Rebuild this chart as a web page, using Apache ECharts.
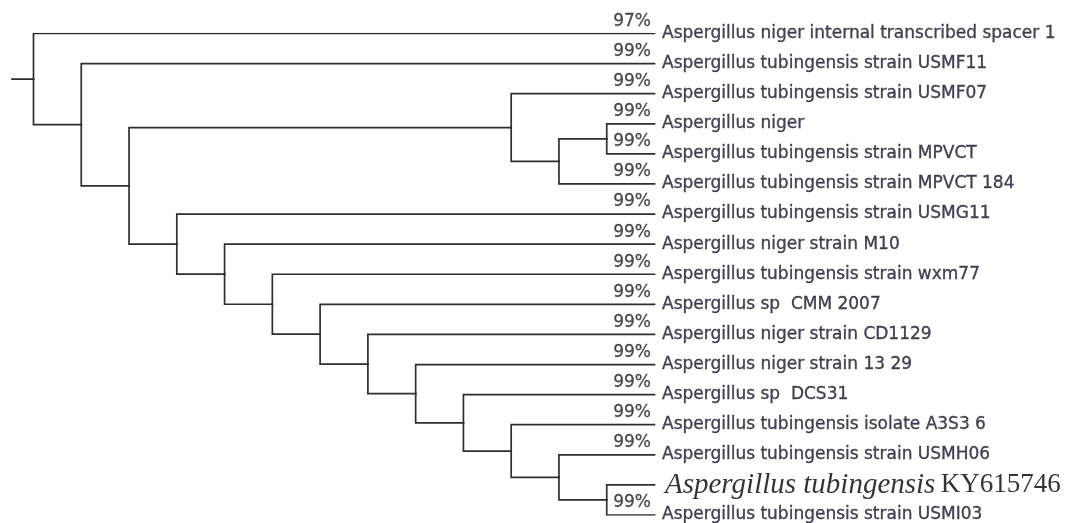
<!DOCTYPE html>
<html>
<head>
<meta charset="utf-8">
<script src="https://cdn.jsdelivr.net/npm/echarts@6/dist/echarts.min.js"></script>
<style>
  html, body { margin: 0; padding: 0; background: #ffffff; }
  #chart { width: 1072px; height: 523px; }
</style>
</head>
<body>
<div id="chart"></div>
<script>
// Terminal taxa, listed top to bottom
const leafNames = [
  'Aspergillus niger internal transcribed spacer 1',
  'Aspergillus tubingensis strain USMF11',
  'Aspergillus tubingensis strain USMF07',
  'Aspergillus niger',
  'Aspergillus tubingensis strain MPVCT',
  'Aspergillus tubingensis strain MPVCT 184',
  'Aspergillus tubingensis strain USMG11',
  'Aspergillus niger strain M10',
  'Aspergillus tubingensis strain wxm77',
  'Aspergillus sp  CMM 2007',
  'Aspergillus niger strain CD1129',
  'Aspergillus niger strain 13 29',
  'Aspergillus sp  DCS31',
  'Aspergillus tubingensis isolate A3S3 6',
  'Aspergillus tubingensis strain USMH06',
  'Aspergillus tubingensis KY615746',
  'Aspergillus tubingensis strain USMI03'
];

// Support value printed above each terminal branch (null = none)
const support = [
  '97%', '99%', '99%', '99%', '99%', '99%', '99%', '99%', '99%',
  '99%', '99%', '99%', '99%', '99%', '99%', null, '99%'
];

// Query sequence, set in the serif face
const queryLeaf = 15;
const querySpecies = 'Aspergillus tubingensis';
const queryAccession = 'KY615746';

// Tree topology: nested clades, numbers index into leafNames
const topology = [0, [1, [[2, [[3, 4], 5]], [6, [7, [8, [9, [10, [11, [12, [13, [14, [15, 16]]]]]]]]]]]]];

// ---- layout: cladogram, leaves aligned on the right ----
function height(n) {
  return typeof n === 'number' ? 0 : 1 + Math.max(...n.map(height));
}
const maxH = height(topology);
function nodeX(n) { return maxH - height(n); }
function nodeY(n) {
  if (typeof n === 'number') return n;
  return (nodeY(n[0]) + nodeY(n[n.length - 1])) / 2;
}

const branches = [];
function walk(n) {
  if (typeof n === 'number') return;
  const x = nodeX(n), y = nodeY(n);
  n.forEach(c => {
    branches.push({ coords: [[x, y], [x, nodeY(c)], [nodeX(c), nodeY(c)]] });
    walk(c);
  });
}
walk(topology);
const rootStub = 0.45;
const rootY = nodeY(topology);
branches.push({ coords: [[-rootStub, rootY], [0, rootY]] });

const tipPoints = leafNames.map((name, i) => [maxH, i, name]);
const supportPoints = support
  .map((s, i) => (s ? [maxH, i, s] : null))
  .filter(Boolean);

const sans = 'DejaVu Sans';
const ink = '#15152a';
const chart = echarts.init(document.getElementById('chart'), null, { renderer: 'canvas' });
chart.setOption({
  backgroundColor: '#ffffff',
  animation: false,
  grid: { left: 12, right: 417.5, top: 33.5, bottom: 8 },
  xAxis: { type: 'value', min: -rootStub, max: maxH, show: false },
  yAxis: { type: 'value', min: 0, max: leafNames.length - 1, inverse: true, show: false },
  series: [
    {
      type: 'lines',
      coordinateSystem: 'cartesian2d',
      polyline: true,
      silent: true,
      lineStyle: { color: '#2e2e2e', width: 1.7, opacity: 1, cap: 'square', join: 'miter' },
      data: branches,
      z: 1
    },
    {
      type: 'scatter',
      symbolSize: 1,
      itemStyle: { color: 'rgba(0,0,0,0)' },
      silent: true,
      data: tipPoints,
      label: {
        show: true,
        position: 'right',
        distance: 7,
        fontFamily: sans,
        fontSize: 17,
        color: ink,
        textBorderColor: ink,
        textBorderWidth: 0.35,
        formatter: p => p.dataIndex === queryLeaf
          ? '{it|' + querySpecies + '} {rm|' + queryAccession + '}'
          : p.data[2],
        rich: {
          it: {
            fontFamily: 'Liberation Serif', fontStyle: 'italic', fontSize: 29,
            color: '#000000', textBorderWidth: 0, padding: [0, 0, 0, 3]
          },
          rm: {
            fontFamily: 'Liberation Serif', fontSize: 27,
            color: '#000000', textBorderWidth: 0
          }
        }
      },
      z: 2
    },
    {
      type: 'scatter',
      symbolSize: 1,
      itemStyle: { color: 'rgba(0,0,0,0)' },
      silent: true,
      data: supportPoints,
      label: {
        show: true,
        position: [-3, -3],
        align: 'right',
        verticalAlign: 'bottom',
        fontFamily: sans,
        fontSize: 17,
        color: '#1e1e1e',
        textBorderColor: '#1e1e1e',
        textBorderWidth: 0.3,
        formatter: p => p.data[2]
      },
      z: 2
    }
  ]
});
</script>
</body>
</html>
